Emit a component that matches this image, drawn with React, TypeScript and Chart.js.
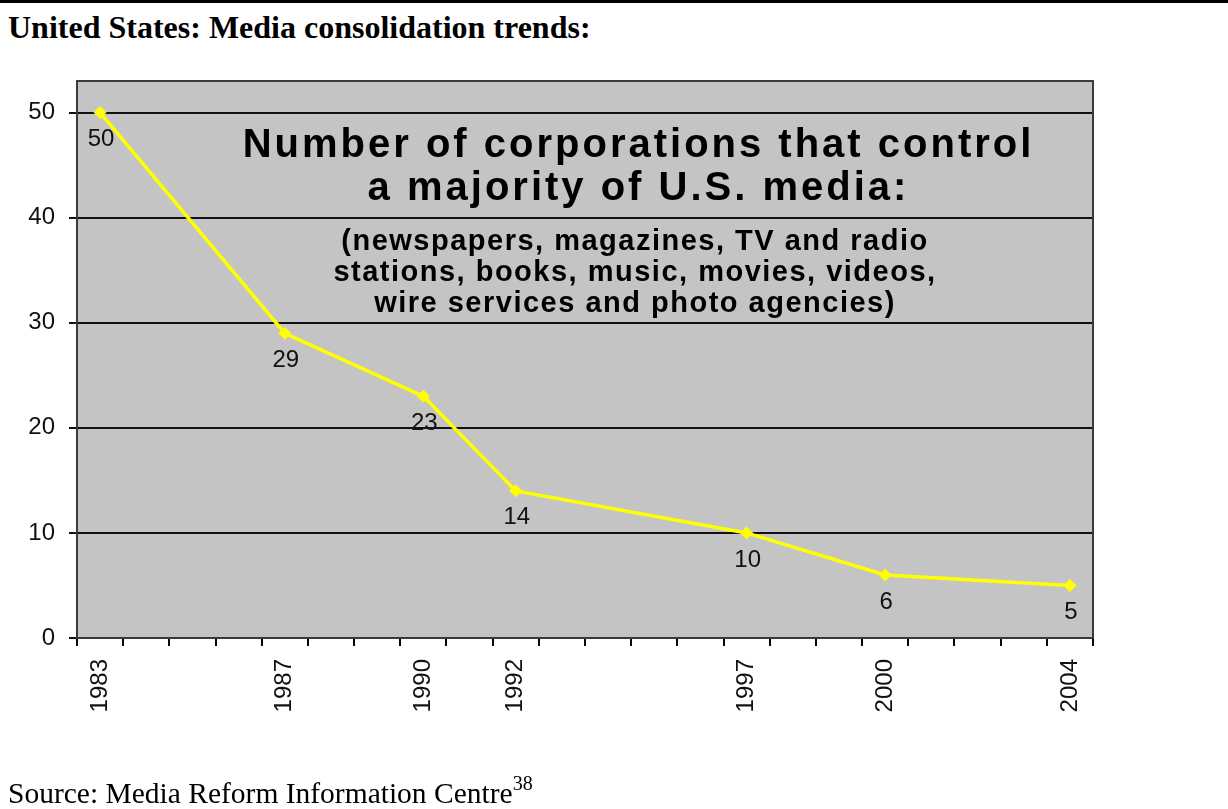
import React, { useEffect, useRef } from "react";
import { Chart, registerables } from "chart.js";

Chart.register(...registerables);

const allYears = [
  "1983", "1984", "1985", "1986", "1987", "1988", "1989", "1990", "1991", "1992", "1993",
  "1994", "1995", "1996", "1997", "1998", "1999", "2000", "2001", "2002", "2003", "2004",
];
const dataYears = ["1983", "1987", "1990", "1992", "1997", "2000", "2004"];
const corporations = [50, 29, 23, 14, 10, 6, 5];
const yTicks = [0, 10, 20, 30, 40, 50];
const titleLines = ["Number of corporations that control", "a majority of U.S. media:"];
const subtitleLines = [
  "(newspapers, magazines, TV and radio",
  "stations, books, music, movies, videos,",
  "wire services and photo agencies)",
];

const W = 1228;
const H = 809;

export default function App() {
  const ref = useRef<HTMLCanvasElement | null>(null);

  useEffect(() => {
    const canvas = ref.current;
    if (!canvas) return;

    const series = allYears.map((y) => {
      const i = dataYears.indexOf(y);
      return i >= 0 ? corporations[i] : null;
    });

    const plotPlugin = {
      id: "plotDecor",
      beforeDraw(chart: any) {
        const { ctx, chartArea } = chart;
        ctx.save();
        ctx.fillStyle = "#C4C4C4";
        ctx.fillRect(chartArea.left, chartArea.top, chartArea.right - chartArea.left, chartArea.bottom - chartArea.top);
        ctx.restore();
      },
      beforeDatasetsDraw(chart: any) {
        const { ctx, chartArea } = chart;
        const cx = chartArea.left + 560;
        ctx.save();
        ctx.fillStyle = "#000";
        ctx.textAlign = "center";
        ctx.textBaseline = "alphabetic";
        ctx.font = "bold 40px 'Liberation Sans', Arial, sans-serif";
        (ctx as any).letterSpacing = "3px";
        titleLines.forEach((t, i) => ctx.fillText(t, cx + 1.5, chartArea.top + 76 + i * 43));
        ctx.font = "bold 29px 'Liberation Sans', Arial, sans-serif";
        (ctx as any).letterSpacing = "1.5px";
        subtitleLines.forEach((t, i) => ctx.fillText(t, cx - 2, chartArea.top + 169 + i * 31));
        ctx.restore();
      },
      afterDatasetsDraw(chart: any) {
        const { ctx } = chart;
        const meta = chart.getDatasetMeta(0);
        ctx.save();
        ctx.fillStyle = "#111";
        ctx.font = "24px 'Liberation Sans', Arial, sans-serif";
        ctx.textAlign = "center";
        ctx.textBaseline = "middle";
        meta.data.forEach((pt: any, i: number) => {
          const v = series[i];
          if (v === null || v === undefined) return;
          ctx.fillText(String(v), pt.x + 1, pt.y + 27);
        });
        ctx.restore();
      },
      afterDraw(chart: any) {
        const { ctx, chartArea } = chart;
        ctx.save();
        ctx.strokeStyle = "#3a3a3a";
        ctx.lineWidth = 2;
        ctx.strokeRect(chartArea.left, chartArea.top, chartArea.right - chartArea.left, chartArea.bottom - chartArea.top);
        ctx.restore();
      },
    };

    const chart = new Chart(canvas, {
      type: "line",
      data: {
        labels: allYears,
        datasets: [
          {
            data: series,
            borderColor: "#FFFF00",
            backgroundColor: "#FFFF00",
            borderWidth: 3.5,
            pointStyle: "rectRot",
            pointRadius: 6.5,
            pointBorderWidth: 0,
            spanGaps: true,
            tension: 0,
          },
        ],
      },
      options: {
        responsive: false,
        animation: false,
        events: [],
        layout: { padding: { left: 0, right: W - 1093, top: 81, bottom: 50 } },
        plugins: { legend: { display: false }, tooltip: { enabled: false }, title: { display: false } },
        scales: {
          x: {
            type: "category",
            offset: true,
            afterFit: (s: any) => {
              s.height = H - 50 - 638;
            },
            grid: {
              offset: true,
              drawOnChartArea: false,
              drawTicks: true,
              tickLength: 8,
              color: "#000",
              lineWidth: 2,
            },
            border: { display: true, color: "#000", width: 2 },
            ticks: {
              autoSkip: false,
              maxRotation: 90,
              minRotation: 90,
              padding: 13,
              color: "#111",
              font: { family: "'Liberation Sans', Arial, sans-serif", size: 24 },
              callback: function (this: any, value: any) {
                const lab = this.getLabelForValue(value);
                return dataYears.includes(lab) ? lab : "";
              },
            },
          },
          y: {
            min: 0,
            max: 53,
            afterFit: (s: any) => {
              s.width = 77;
            },
            afterBuildTicks: (s: any) => {
              s.ticks = yTicks.map((v) => ({ value: v }));
            },
            grid: {
              color: "#111",
              lineWidth: 2,
              drawTicks: true,
              tickLength: 8,
            },
            border: { display: true, color: "#000", width: 2 },
            ticks: {
              stepSize: 10,
              includeBounds: false,
              padding: 14,
              color: "#111",
              font: { family: "'Liberation Sans', Arial, sans-serif", size: 24 },
            },
          },
        },
      },
      plugins: [plotPlugin],
    });

    return () => chart.destroy();
  }, []);

  return (
    <div
      style={{
        position: "absolute",
        left: 0,
        top: 0,
        width: W,
        height: H,
        overflow: "hidden",
        background: "#fff",
      }}
    >
      <div style={{ position: "absolute", left: 0, top: 0, width: W, height: 3, background: "#000" }} />
      <div
        style={{
          position: "absolute",
          left: 8,
          top: 9,
          fontFamily: "'Liberation Serif', 'Times New Roman', serif",
          fontWeight: "bold",
          fontSize: 32,
          lineHeight: "37px",
          whiteSpace: "nowrap",
          color: "#000",
        }}
      >
        United States: Media consolidation trends:
      </div>
      <canvas ref={ref} width={W} height={H} style={{ position: "absolute", left: 0, top: 0, width: W, height: H }} />
      <div
        style={{
          position: "absolute",
          left: 8,
          top: 776,
          fontFamily: "'Liberation Serif', 'Times New Roman', serif",
          fontSize: 29.5,
          lineHeight: "35px",
          whiteSpace: "nowrap",
          color: "#000",
        }}
      >
        Source: Media Reform Information Centre
        <span style={{ fontSize: 20, lineHeight: 0, position: "relative", top: -13 }}>38</span>
      </div>
    </div>
  );
}
